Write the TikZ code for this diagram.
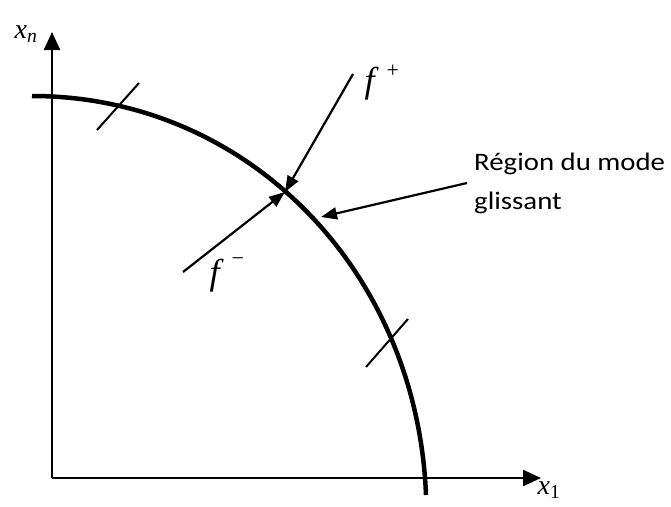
\documentclass[tikz,border=0pt]{standalone}
\usepackage{fontspec}
\setmainfont{Liberation Serif}
\newfontfamily\carl{Carlito}
\usetikzlibrary{arrows.meta}
\begin{document}
\begin{tikzpicture}[x=1pt,y=-1pt,
  axis/.style={line width=2.4pt,-{Triangle[length=18pt,width=16pt]}},
  curve/.style={line width=4.5pt},
  tickmark/.style={line width=2pt},
  vec/.style={line width=2.2pt,-{Triangle[length=16pt,width=12pt]}},
  xlab/.style={inner sep=0pt,font=\fontsize{28}{30}\selectfont\itshape},
  flab/.style={inner sep=0pt,anchor=base west,font=\fontsize{36}{38}\selectfont\itshape},
  ]
\useasboundingbox (0,0) rectangle (671,506);
% axes
\coordinate (O) at (52,478);
\coordinate (Ytip) at (52,32);
\coordinate (Xtip) at (541,478);
\draw[axis] (O) -- (Ytip);
\draw[axis] (O) -- (Xtip);
\node[xlab] (xn) at (26,34) {x\textsubscript{n}};
\node[xlab] (x1) at (549,490) {x\textsubscript{\upshape 1}};
% switching curve
\draw[curve] (32,96) .. controls (247,96) and (417,270) .. (426,495);
% tick marks
\draw[tickmark] (97,130) -- (139,83);
\draw[tickmark] (366,367) -- (408,319);
% vector fields
\coordinate (P) at (285,192);
\coordinate (Fps) at (353,74);
\coordinate (Fms) at (183,272);
\draw[vec] (Fps) -- (P);
\draw[vec] (Fms) -- (P);
\node[flab] (fp) at (364.5,92.5) {f\kern12pt\raisebox{15pt}{\fontsize{22}{22}\selectfont\upshape +}};
\node[flab] (fm) at (209.5,284.5) {f\kern12pt\raisebox{19pt}{\fontsize{22}{22}\selectfont\upshape −}};
% region label
\node[anchor=base west, inner sep=0pt] (reg) at (474,170)
  {\scalebox{1.2}[1.05]{\carl\fontsize{24}{38}\selectfont\begin{tabular}[t]{@{}l@{}}Région du mode\\glissant\end{tabular}}};
\coordinate (Rs) at (467,183);
\coordinate (Rt) at (321,217);
\draw[vec] (Rs) -- (Rt);
\end{tikzpicture}
\end{document}
